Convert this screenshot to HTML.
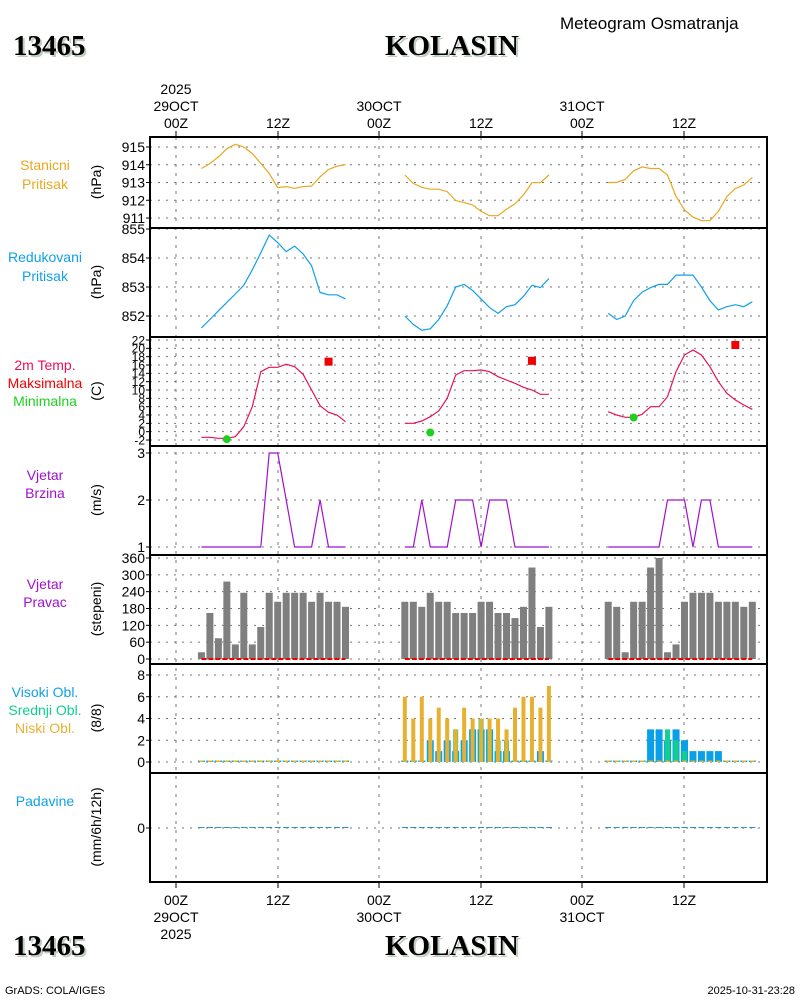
<!DOCTYPE html>
<html><head><meta charset="utf-8"><style>
html,body{margin:0;padding:0;background:#fff;}
svg{display:block;}
text{font-family:"Liberation Sans",sans-serif;}
</style></head><body>
<svg id="chart" width="800" height="1000" viewBox="0 0 800 1000" xmlns="http://www.w3.org/2000/svg"></svg>
<script>
// ---- data ----
const dayLabels = ["29OCT","30OCT","31OCT"];
const hours = [3,4,5,6,7,8,9,10,11,12,13,14,15,16,17,18,19,20];
const stnPres = [
 [913.79,914.07,914.44,914.9,915.15,915.0,914.63,914.07,913.51,912.71,912.77,912.67,912.77,912.8,913.32,913.73,913.92,914.01],
 [913.42,912.95,912.73,912.62,912.62,912.49,911.98,911.87,911.74,911.37,911.13,911.13,911.5,911.8,912.3,912.99,912.99,913.42],
 [913.0,913.0,913.17,913.66,913.88,913.79,913.79,913.42,912.21,911.46,911.05,910.85,910.85,911.37,912.21,912.67,912.86,913.29]];
const redPres = [
 [851.59,851.88,852.18,852.47,852.76,853.06,853.59,854.18,854.79,854.53,854.22,854.41,854.14,853.73,852.81,852.73,852.73,852.59],
 [852.0,851.71,851.51,851.56,851.88,852.35,853.0,853.09,852.88,852.59,852.29,852.09,852.32,852.39,852.68,853.06,852.98,853.29],
 [852.09,851.88,852.0,852.53,852.82,852.98,853.09,853.09,853.41,853.41,853.41,853.0,852.53,852.21,852.32,852.39,852.32,852.49]];
const temp = [
 [-1.36,-1.36,-1.6,-1.6,-1.2,1.2,6.0,14.4,15.44,15.44,16.16,15.6,13.76,10.0,6.24,4.64,4.0,2.4],
 [2.0,2.0,2.56,3.6,4.96,8.0,13.6,14.64,14.64,14.8,14.4,13.2,12.4,11.6,10.64,10.0,8.96,8.96],
 [4.8,4.0,3.44,3.44,4.16,6.0,6.0,8.4,14.4,18.4,19.6,18.4,15.6,12.0,9.2,7.6,6.4,5.36]];
const tMaxHour = [18,18,18];
const tMax = [16.8,17.0,20.8];
const tMinHour = [6,6,6];
const tMin = [-1.8,-0.2,3.4];
const windSpd = [
 [1,1,1,1,1,1,1,1,3,3,2,1,1,1,2,1,1,1],
 [1,1,2,1,1,1,2,2,2,1,2,2,2,1,1,1,1,1],
 [1,1,1,1,1,1,1,2,2,2,1,2,2,1,1,1,1,1]];
const windDir = [
 [24,164,74,276,52,236,52,114,236,204,236,236,236,204,236,204,204,186],
 [204,204,186,236,204,204,164,164,164,204,204,164,164,146,186,326,114,186],
 [204,186,24,204,204,326,360,24,52,204,236,236,236,204,204,204,186,204]];
const cloudHigh = [
 [0,0,0,0,0,0,0,0,0,0,0,0,0,0,0,0,0,0],
 [0,0,0,2,1,2,1,2,3,3,3,1,1,0,0,0,1,0],
 [0,0,0,0,0,3,3,2,3,2,1,1,1,1,0,0,0,0]];
const cloudMid = [
 [0,0,0,0,0,0,0,0,0,0,0,0,0,0,0,0,0,0],
 [0,0,0,0,0,0,3,0,0,4,3,2,2,0,0,0,0,0],
 [0,0,0,0,0,0,0,3,2,1,0,0,0,0,0,0,0,0]];
const cloudLow = [
 [0,0,0,0,0,0,0,0,0,0,0,0,0,0,0,0,0,0],
 [6,4,6,4,5,4,3,5,4,4,4,4,3,5,6,6,5,7],
 [0,0,0,0,0,0,0,0,0,0,0,0,0,0,0,0,0,0]];
const precip = [
 [0,0,0,0,0,0,0,0,0,0,0,0,0,0,0,0,0,0],
 [0,0,0,0,0,0,0,0,0,0,0,0,0,0,0,0,0,0],
 [0,0,0,0,0,0,0,0,0,0,0,0,0,0,0,0,0,0]];
const presTicks = [915,914,913,912,911];
const redTicks = [855,854,853,852];
const tempTicks = [22,20,18,16,14,12,10,8,6,4,2,0,-2];
const spdTicks = [3,2,1];
const dirTicks = [360,300,240,180,120,60,0];
const cloudTicks = [8,6,4,2,0];
const precipTicks = [0];

// ---- layout ----
const svg = document.getElementById('chart');
const NS = 'http://www.w3.org/2000/svg';
const X0 = 150, X1 = 767;
function el(tag, attrs, parent){ const e=document.createElementNS(NS,tag); for(const k in attrs) e.setAttribute(k,attrs[k]); (parent||svg).appendChild(e); return e; }
function tx(d,h){ return 176 + (d*24+h)*8.475; }
function lin(v0,y0,v1,y1){ return v=> y0 + (v-v0)*(y1-y0)/(v1-v0); }
const yP = lin(915,147,911,218);
const yR = lin(855,229,852,316);
const yT = lin(22,340,-2,440);
const yS = lin(3,453,1,547);
const yD = lin(360,558,0,659);
const yC = lin(8,675,0,762);
const yPr = lin(0,828,1,810);
const panels = [[137,228],[228,337],[337,446],[446,555],[555,664],[664,773],[773,882]];
const gridX = [176,278,379,481,582,684];

function text(s,x,y,opt){ const t=el('text',Object.assign({x:x,y:y,'font-size':14,fill:'#000'},opt||{})); t.textContent=s; return t; }

function hgrid(ticks,yf,name,fs){
  const g=el('g',{});
  
  
  ticks.forEach(v=>{
    const y=yf(v);
    el('line',{x1:X0,x2:X1,y1:y,y2:y,stroke:'#777','stroke-dasharray':'2,6'},g);
    el('line',{x1:X0-4,x2:X0,y1:y,y2:y,stroke:'#000'},g);
    const t=el('text',{x:X0-5,y:y+fs*0.36,'font-size':fs,'text-anchor':'end',fill:'#000'},g);
    t.textContent=String(v);
    
  });
}
hgrid(presTicks,yP,'station-pressure',14);
hgrid(redTicks,yR,'reduced-pressure',14);
hgrid(tempTicks,yT,'temperature',12);
hgrid(spdTicks,yS,'wind-speed',14);
hgrid(dirTicks,yD,'wind-direction',14);
hgrid(cloudTicks,yC,'cloud',14);
hgrid(precipTicks,yPr,'precipitation',14);
gridX.forEach(x=>{
  el('line',{x1:x,x2:x,y1:137,y2:882,stroke:'#777','stroke-dasharray':'3,6'});
  el('line',{x1:x,x2:x,y1:131,y2:137,stroke:'#000'});
  el('line',{x1:x,x2:x,y1:882,y2:888,stroke:'#000'});
});

function series(arr,yf,color,name){
  arr.forEach((day,d)=>{
    const pts=day.map((v,i)=>tx(d,hours[i]).toFixed(1)+','+yf(v).toFixed(1)).join(' ');
    const p=el('polyline',{points:pts,fill:'none',stroke:color,'stroke-width':1.2});
    
    
  });
}
series(stnPres,yP,'#e8a820','station-pressure');
series(redPres,yR,'#10a0e8','reduced-pressure');
series(temp,yT,'#e8105a','temperature');
series(windSpd,yS,'#a010d0','wind-speed');

tMax.forEach((v,d)=>{
  const r=el('rect',{x:tx(d,tMaxHour[d])-4,y:yT(v)-4,width:8,height:8,fill:'#f00000'});
  
  
});
tMin.forEach((v,d)=>{
  const c=el('circle',{cx:tx(d,tMinHour[d]),cy:yT(v),r:4,fill:'#20d020'});
  
  
});

windDir.forEach((day,d)=>{
  day.forEach((v,i)=>{
    const x=tx(d,hours[i]);
    const r=el('rect',{x:x-3.5,y:yD(v),width:7,height:yD(0)-yD(v),fill:'#7f7f7f'});
    
    
  });
  const l=el('line',{x1:tx(d,hours[0]),x2:tx(d,hours[hours.length-1]),y1:yD(0),y2:yD(0),stroke:'#f00000','stroke-width':2,'stroke-dasharray':'5,2'});
  
  
});

function cbars(arr,color,w,name){
  arr.forEach((day,d)=>day.forEach((v,i)=>{
    const x=tx(d,hours[i]);
    const h=Math.max(yC(0)-yC(v),1.5);
    const r=el('rect',{x:x-w/2,y:yC(0)-h,width:w,height:h,fill:color});
    
    
  }));
}
cbars(cloudHigh,'#08a0e8',7,'high-cloud-bar');
cbars(cloudMid,'#10d090',5,'mid-cloud-bar');
cbars(cloudLow,'#e8b030',4,'low-cloud-bar');

precip.forEach((day,d)=>day.forEach((v,i)=>{
  const x=tx(d,hours[i]);
  const h=Math.max(yPr(0)-yPr(v),1);
  const r=el('rect',{x:x-3,y:yPr(0)-h,width:6,height:h,fill:'#3090c0'});
  
  
}));

panels.forEach(p=>{
  el('rect',{x:X0,y:p[0],width:X1-X0,height:p[1]-p[0],fill:'none',stroke:'#000','stroke-width':2});
});

const topLbl=[[176,['2025','29OCT','00Z']],[278,['12Z']],[379,['30OCT','00Z']],[481,['12Z']],[582,['31OCT','00Z']],[684,['12Z']]];
topLbl.forEach(([x,ls])=>{ ls.forEach((s,i)=>{ const t=text(s,x,128-(ls.length-1-i)*17,{'text-anchor':'middle'});  }); });
const botLbl=[[176,['00Z','29OCT','2025']],[278,['12Z']],[379,['00Z','30OCT']],[481,['12Z']],[582,['00Z','31OCT']],[684,['12Z']]];
botLbl.forEach(([x,ls])=>{ ls.forEach((s,i)=>{ const t=text(s,x,905+i*17,{'text-anchor':'middle'});  }); });

function ytitle(s,cy){ const t=text(s,0,0,{'text-anchor':'middle',transform:'translate(101,'+cy+') rotate(-90)'});   }
ytitle('(hPa)',182); ytitle('(hPa)',282); ytitle('(C)',391); ytitle('(m/s)',500);
ytitle('(stepeni)',609); ytitle('(8/8)',718); ytitle('(mm/6h/12h)',827);

function ll(s,y,c){ const t=text(s,45,y,{'text-anchor':'middle',fill:c});   }
ll('Stanicni',170,'#e8a820'); ll('Pritisak',189,'#e8a820');
ll('Redukovani',262,'#10a0e8'); ll('Pritisak',281,'#10a0e8');
ll('2m Temp.',370,'#e8105a'); ll('Maksimalna',388,'#f00000'); ll('Minimalna',406,'#20d020');
ll('Vjetar',480,'#a010d0'); ll('Brzina',498,'#a010d0');
ll('Vjetar',589,'#a010d0'); ll('Pravac',607,'#a010d0');
ll('Visoki Obl.',697,'#10a0e8'); ll('Srednji Obl.',715,'#10d090'); ll('Niski Obl.',733,'#e8b030');
ll('Padavine',806,'#10a0e8');
</script>
<div style="position:absolute;left:0;top:0;width:800px;height:1000px;pointer-events:none;font-family:'Liberation Serif',serif;">
 <div style="position:absolute;left:13px;top:30px;font-size:29px;font-weight:bold;color:#000;text-shadow:2px 2px 0 #c0ccc0;">13465</div>
 <div style="position:absolute;left:385px;top:30px;font-size:29px;font-weight:bold;color:#000;text-shadow:2px 2px 0 #c0ccc0;">KOLASIN</div>
 <div style="position:absolute;left:560px;top:14px;font-size:17px;font-family:'Liberation Sans',sans-serif;color:#000;">Meteogram Osmatranja</div>
 <div style="position:absolute;left:13px;top:930px;font-size:29px;font-weight:bold;color:#000;text-shadow:2px 2px 0 #c0ccc0;">13465</div>
 <div style="position:absolute;left:385px;top:930px;font-size:29px;font-weight:bold;color:#000;text-shadow:2px 2px 0 #c0ccc0;">KOLASIN</div>
 <div style="position:absolute;left:5px;top:985px;font-size:11px;font-family:'Liberation Sans',sans-serif;">GrADS: COLA/IGES</div>
 <div style="position:absolute;right:5px;top:985px;font-size:11px;font-family:'Liberation Sans',sans-serif;">2025-10-31-23:28</div>
</div>
</body></html>
